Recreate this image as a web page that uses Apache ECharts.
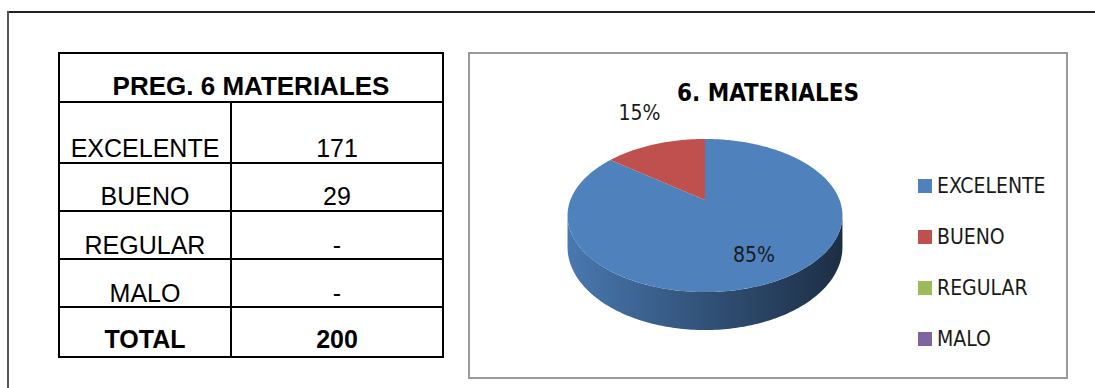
<!DOCTYPE html>
<html>
<head>
<meta charset="utf-8">
<script src="https://cdn.jsdelivr.net/npm/echarts@6/dist/echarts.min.js"></script>
<style>
html,body{margin:0;padding:0;background:#ffffff;}
#chart{width:1095px;height:388px;}
</style>
</head>
<body>
<div id="chart"></div>
<script>
// ---------------- data ----------------
const tableTitle = 'PREG. 6 MATERIALES';
const chartTitle = '6. MATERIALES';
const categories = ['EXCELENTE', 'BUENO', 'REGULAR', 'MALO'];
const values = [171, 29, 0, 0];
const percentLabels = ['85%', '15%', '', ''];
const totalLabel = 'TOTAL';
const colors = ['#4F81BD', '#C0504D', '#9BBB59', '#8064A2'];

// ---------------- layout (style only) ----------------
const NARROW = "'Liberation Sans Narrow', 'DejaVu Sans Condensed', 'Liberation Sans', sans-serif";
const ARIAL = "'Liberation Sans', Arial, sans-serif";
const TBL = { x0: 59, xm: 231, x1: 443, edges: [53, 102, 163, 211, 259, 307, 357], textY: [86, 148, 196, 245, 293, 339] };
const PIE = { cx: 705, cy: 200, A: 134.6, B: 73.4, k: 0.2026, D: 30.3 };

const total = values.reduce((a, b) => a + b, 0);
const starts = [];
values.reduce((acc, v) => { starts.push(acc); return acc + v; }, 0);

function proj(theta, r, drop) {
  const u = Math.sin(theta) * r, v = Math.cos(theta) * r;
  const d = 1 + PIE.k * v;
  return [PIE.cx + PIE.A * u / d, PIE.cy - PIE.B * v / d + (drop ? PIE.D / d : 0)];
}
function shade(hex, f) {
  const n = parseInt(hex.slice(1), 16);
  const r = Math.round(((n >> 16) & 255) * f), g = Math.round(((n >> 8) & 255) * f), b = Math.round((n & 255) * f);
  return 'rgb(' + r + ',' + g + ',' + b + ')';
}
function arcPts(a0, a1, r, drop) {
  const pts = [];
  const n = Math.max(2, Math.ceil((a1 - a0) / (Math.PI / 180)));
  for (let j = 0; j <= n; j++) pts.push(proj(a0 + (a1 - a0) * j / n, r, drop));
  return pts;
}

const frontStart = Math.acos(-PIE.k);
const frontEnd = 2 * Math.PI - Math.acos(-PIE.k);

const series = categories.map((name, i) => ({
  type: 'custom',
  name: name,
  coordinateSystem: 'none',
  data: [values[i]],
  itemStyle: { color: colors[i] },
  silent: true,
  renderItem: function (params, api) {
    const val = api.value(0);
    if (!val) return { type: 'group', children: [] };
    const a0 = starts[i] / total * 2 * Math.PI;
    const a1 = (starts[i] + val) / total * 2 * Math.PI;
    const children = [];
    // side (visible front band)
    const s = Math.max(a0, frontStart), e = Math.min(a1, frontEnd);
    if (e > s) {
      const topArc = arcPts(s, e, 1, false);
      const botArc = arcPts(s, e, 1, true).reverse();
      children.push({
        type: 'polygon', z2: 1,
        shape: { points: topArc.concat(botArc) },
        style: {
          fill: new echarts.graphic.LinearGradient(0, 0, 1, 0, [
            { offset: 0, color: shade(colors[i], 0.93) },
            { offset: 0.45, color: shade(colors[i], 0.66) },
            { offset: 1, color: shade(colors[i], 0.36) }
          ])
        }
      });
    }
    // top face
    const top = [proj(0, 0, false)].concat(arcPts(a0, a1, 1, false));
    children.push({ type: 'polygon', z2: 10, shape: { points: top }, style: { fill: colors[i] } });
    // label
    const mid = (a0 + a1) / 2;
    let lp;
    if (val / total >= 0.3) {
      lp = proj(mid, 0.72, false);
    } else {
      const edge = proj(mid, 1, false);
      lp = [edge[0] + Math.sin(mid) * 35, edge[1] - Math.cos(mid) * 35];
    }
    children.push({
      type: 'text', z2: 20, x: lp[0], y: lp[1],
      style: { text: percentLabels[i], fill: '#1a1a1a', fontFamily: NARROW, fontSize: 21, align: 'center', verticalAlign: 'middle' }
    });
    return { type: 'group', children: children };
  }
}));

// ---------------- table & frames (graphic) ----------------
const g = [];
// outer frame
g.push({ type: 'line', shape: { x1: 8, y1: 12, x2: 1095, y2: 12 }, style: { stroke: '#222', lineWidth: 2 } });
g.push({ type: 'line', shape: { x1: 8, y1: 11, x2: 8, y2: 388 }, style: { stroke: '#555', lineWidth: 2 } });
// chart box
g.push({ type: 'rect', shape: { x: 469, y: 53, width: 598, height: 325 }, style: { fill: '#fff', stroke: '#9a9a9a', lineWidth: 2 } });
// chart title
g.push({ type: 'text', x: 768, y: 93, style: { text: chartTitle, fill: '#000', fontFamily: NARROW, fontWeight: 'bold', fontSize: 24, align: 'center', verticalAlign: 'middle' } });

// table
const E = TBL.edges;
g.push({ type: 'rect', shape: { x: TBL.x0, y: E[0], width: TBL.x1 - TBL.x0, height: E[E.length - 1] - E[0] }, style: { fill: 'none', stroke: '#000', lineWidth: 2 } });
for (let r = 1; r < E.length - 1; r++) {
  g.push({ type: 'line', shape: { x1: TBL.x0, y1: E[r], x2: TBL.x1, y2: E[r] }, style: { stroke: '#000', lineWidth: 2 } });
}
g.push({ type: 'line', shape: { x1: TBL.xm, y1: E[1], x2: TBL.xm, y2: E[E.length - 1] }, style: { stroke: '#000', lineWidth: 2 } });
g.push({ type: 'text', x: (TBL.x0 + TBL.x1) / 2, y: TBL.textY[0], style: { text: tableTitle, fill: '#000', fontFamily: ARIAL, fontWeight: 'bold', fontSize: 26, align: 'center', verticalAlign: 'middle' } });
const rowNames = categories.concat([totalLabel]);
const rowVals = values.map(v => v ? String(v) : '-').concat([String(total)]);
rowNames.forEach((nm, r) => {
  const bold = r === rowNames.length - 1 ? 'bold' : 'normal';
  const y = TBL.textY[r + 1];
  g.push({ type: 'text', x: (TBL.x0 + TBL.xm) / 2, y: y, style: { text: nm, fill: '#000', fontFamily: ARIAL, fontWeight: bold, fontSize: 25, align: 'center', verticalAlign: 'middle' } });
  g.push({ type: 'text', x: (TBL.xm + TBL.x1) / 2, y: y, style: { text: rowVals[r], fill: '#000', fontFamily: ARIAL, fontWeight: bold, fontSize: 25, align: 'center', verticalAlign: 'middle' } });
});

const chart = echarts.init(document.getElementById('chart'), null, { renderer: 'svg' });
chart.setOption({
  animation: false,
  backgroundColor: '#ffffff',
  color: colors,
  graphic: { elements: g },
  legend: {
    orient: 'vertical',
    left: 913,
    top: 170,
    icon: 'rect',
    itemWidth: 14,
    itemHeight: 14,
    itemGap: 29,
    selectedMode: false,
    data: categories,
    textStyle: { color: '#1a1a1a', fontFamily: NARROW, fontSize: 21, lineHeight: 22 }
  },
  series: series
});
</script>
</body>
</html>
